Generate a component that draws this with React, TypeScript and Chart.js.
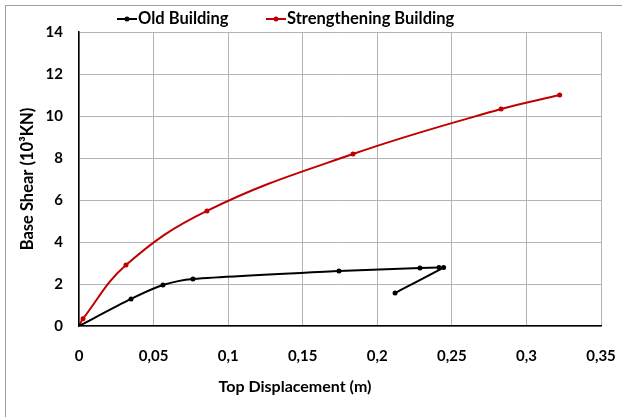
import React, { useEffect, useRef } from "react";
import { Chart, registerables } from "chart.js";

Chart.register(...registerables);

const oldX = [0, 0.0349, 0.0563, 0.0764, 0.1743, 0.2286, 0.2414, 0.2445, 0.2119];
const oldY = [0, 1.29, 1.95, 2.24, 2.62, 2.76, 2.78, 2.79, 1.57];
const strX = [0, 0.0027, 0.0315, 0.0858, 0.1837, 0.283, 0.3223];
const strY = [0, 0.35, 2.9, 5.48, 8.19, 10.33, 11.0];
const xTicks = [0, 0.05, 0.1, 0.15, 0.2, 0.25, 0.3, 0.35];
const yTicks = [0, 2, 4, 6, 8, 10, 12, 14];
const seriesNames = ["Old Building", "Strengthening Building"];
const seriesColors = ["#000000", "#c00000"];
const xTitle = "Top Displacement (m)";
const yTitle = "Base Shear (10³KN)";

const FONT = "Lato, 'Open Sans', sans-serif";

const legendPlugin = {
  id: "customLegend",
  afterDraw(chart: any) {
    const ctx = chart.ctx;
    ctx.save();
    ctx.font = `bold 16.5px ${FONT}`;
    ctx.textBaseline = "middle";
    const y = 19;
    const starts = [117, 266];
    seriesNames.forEach((name, i) => {
      const x = starts[i];
      ctx.strokeStyle = seriesColors[i];
      ctx.lineWidth = 2;
      ctx.beginPath();
      ctx.moveTo(x, y);
      ctx.lineTo(x + 20, y);
      ctx.stroke();
      ctx.fillStyle = seriesColors[i];
      ctx.beginPath();
      ctx.arc(x + 10, y, 2.5, 0, Math.PI * 2);
      ctx.fill();
      ctx.fillStyle = "#000";
      ctx.textAlign = "left";
      ctx.fillText(name, x + 21, y);
    });
    // x-axis title (offset left of plot centre, as in the reference)
    ctx.font = `bold 16px ${FONT}`;
    ctx.textAlign = "center";
    ctx.fillText(xTitle, 295, 387);
    ctx.restore();
  },
};

export default function App() {
  const ref = useRef<HTMLCanvasElement | null>(null);
  useEffect(() => {
    if (!ref.current) return;
    const chart = new Chart(ref.current, {
      type: "scatter",
      data: {
        datasets: [
          {
            label: seriesNames[0],
            data: oldX.map((x, i) => ({ x, y: oldY[i] })),
            showLine: true,
            borderColor: seriesColors[0],
            backgroundColor: seriesColors[0],
            borderWidth: 2,
            pointRadius: 2.5,
            pointBorderWidth: 0,
            tension: 0.25,
          },
          {
            label: seriesNames[1],
            data: strX.map((x, i) => ({ x, y: strY[i] })),
            showLine: true,
            borderColor: seriesColors[1],
            backgroundColor: seriesColors[1],
            borderWidth: 2,
            pointRadius: 2.5,
            pointBorderWidth: 0,
            tension: 0.4,
          },
        ],
      },
      options: {
        animation: false,
        responsive: false,
        maintainAspectRatio: false,
        layout: { padding: { left: 0, right: 21, top: 32, bottom: 0 } },
        plugins: { legend: { display: false }, tooltip: { enabled: false } },
        scales: {
          x: {
            type: "linear",
            min: 0,
            max: 0.35,
            afterBuildTicks: (s: any) => {
              s.ticks = xTicks.map((v) => ({ value: v }));
            },
            afterFit: (s: any) => {
              s.height = 417 - 326;
              s.paddingLeft = 0;
              s.paddingRight = 0;
            },
            grid: { color: "#b4b4b4", lineWidth: 1, drawTicks: false },
            border: { color: "#000", width: 1.5 },
            ticks: {
              padding: 21,
              color: "#000",
              font: { family: FONT, weight: "bold", size: 15 },
              callback: (v: any) => String(v).replace(".", ","),
            },
            title: { display: false, text: xTitle },
          },
          y: {
            type: "linear",
            min: 0,
            max: 14,
            afterBuildTicks: (s: any) => {
              s.ticks = yTicks.map((v) => ({ value: v }));
            },
            afterFit: (s: any) => {
              s.width = 79;
              s.paddingTop = 0;
              s.paddingBottom = 0;
            },
            grid: { color: "#b4b4b4", lineWidth: 1, drawTicks: false },
            border: { color: "#000", width: 1.5 },
            ticks: {
              padding: 16,
              color: "#000",
              font: { family: FONT, weight: "bold", size: 15 },
            },
            title: {
              display: true,
              text: yTitle,
              color: "#000",
              font: { family: FONT, weight: "bold", size: 16.5 },
              padding: { top: 18, bottom: 0 },
            },
          },
        },
      },
      plugins: [legendPlugin],
    });
    return () => chart.destroy();
  }, []);

  return (
    <div style={{ position: "fixed", left: 0, top: 0, width: 622, height: 417, background: "#fff", overflow: "hidden" }}>
      <div
        style={{
          position: "absolute",
          left: 5,
          top: 5,
          width: 700,
          height: 500,
          border: "1px solid #a0a0a0",
        }}
      />
      <canvas ref={ref} width={622} height={417} style={{ position: "absolute", left: 0, top: 0, width: 622, height: 417 }} />
    </div>
  );
}
